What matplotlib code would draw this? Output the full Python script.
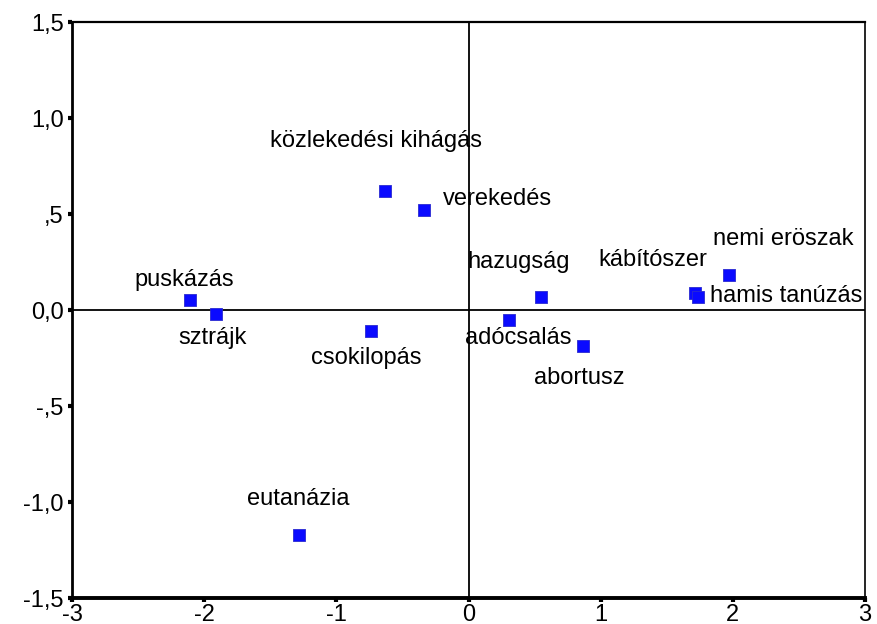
import matplotlib
matplotlib.use('Agg')
import matplotlib.pyplot as plt

# data
labels = ['közlekedési kihágás', 'verekedés', 'puskázás', 'sztrájk', 'csokilopás',
          'eutanázia', 'hazugság', 'adócsalás', 'abortusz', 'kábítószer',
          'hamis tanúzás', 'nemi eröszak']
dim1 = [-0.63, -0.34, -2.11, -1.91, -0.74, -1.28, 0.55, 0.31, 0.87, 1.71, 1.74, 1.97]
dim2 = [0.62, 0.52, 0.05, -0.02, -0.11, -1.17, 0.07, -0.05, -0.19, 0.09, 0.07, 0.18]

xticks = [-3, -2, -1, 0, 1, 2, 3]
yticks = [-1.5, -1.0, -0.5, 0.0, 0.5, 1.0, 1.5]
ytick_labels = ['-1,5', '-1,0', '-,5', '0,0', ',5', '1,0', '1,5']

# label offsets in pixels (dx, dy to baseline) and alignment
offsets = [(-9, 44, 'center'), (19, 5, 'left'), (-5, 14, 'center'), (-3, -30, 'center'),
           (-4, -33, 'center'), (-1, 30, 'center'), (-23, 29, 'center'), (9, -24, 'center'),
           (-4, -38, 'center'), (-42, 27, 'center'), (12, -5, 'left'), (54, 30, 'center')]

plt.rcParams['font.family'] = ['Liberation Sans', 'DejaVu Sans']

fig = plt.figure(figsize=(8.78, 6.24), dpi=100)
ax = fig.add_axes([72/878, 26/624, (865-72)/878, (598-22)/624])

ax.axhline(0, color='black', lw=1.3, zorder=1)
ax.axvline(0, color='black', lw=1.3, zorder=1)

ax.scatter(dim1, dim2, marker='s', s=80, color='#0a0aff', edgecolors='#2a2ad0',
           linewidths=0.6, zorder=3)

for lab, x, y, (dx, dy, ha) in zip(labels, dim1, dim2, offsets):
  ax.annotate(lab, (x, y), xytext=(dx*0.72, dy*0.72), textcoords='offset points',
              ha=ha, va='baseline', fontsize=17, zorder=4)

ax.set_xlim(-3, 3)
ax.set_ylim(-1.5, 1.5)
ax.set_xticks(xticks)
ax.set_xticklabels([str(t) for t in xticks])
ax.set_yticks(yticks)
ax.set_yticklabels(ytick_labels)
ax.tick_params(axis='both', labelsize=17, length=3, width=3, direction='out', pad=3)
ax.tick_params(axis='x', pad=1)

ax.spines['left'].set_linewidth(2)
ax.spines['bottom'].set_linewidth(2.8)
ax.spines['top'].set_linewidth(1.6)
ax.spines['right'].set_linewidth(1.2)

fig.savefig('out.png', dpi=100)
